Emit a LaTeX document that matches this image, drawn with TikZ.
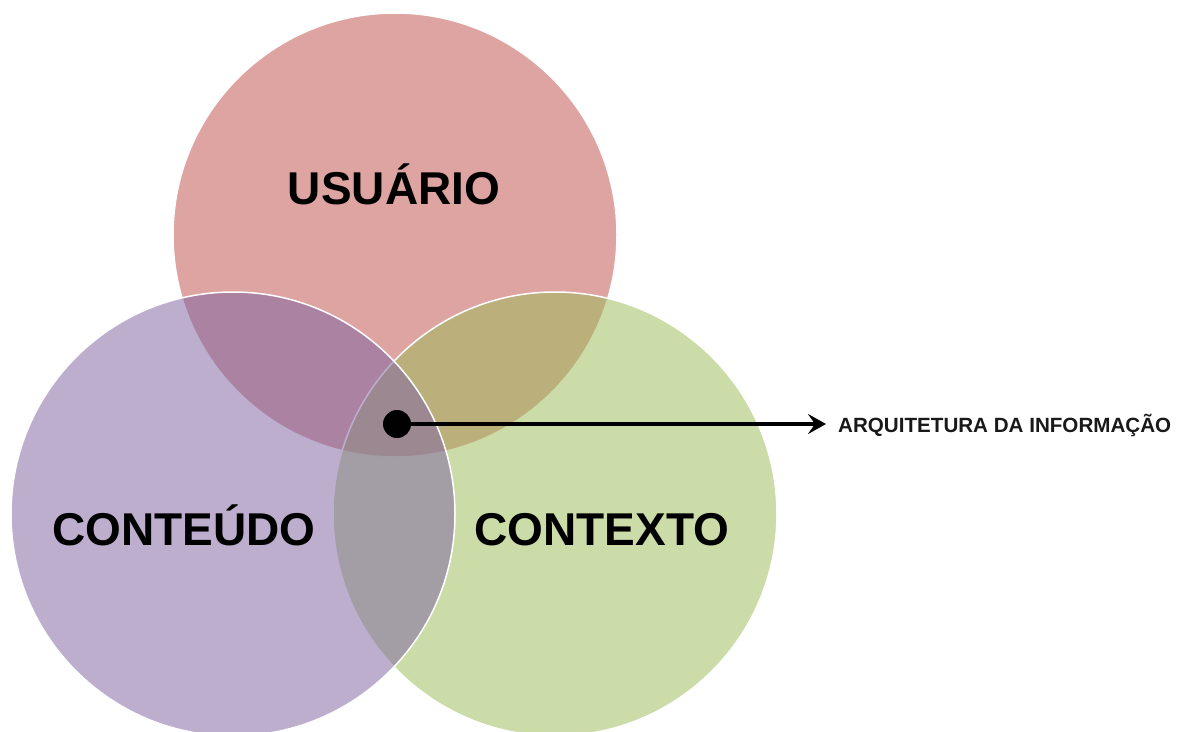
\documentclass[tikz,border=0pt]{standalone}
\usepackage{fontspec}
\setmainfont{Liberation Sans}
\usetikzlibrary{arrows.meta}
\definecolor{cred}{HTML}{C0504D}
\definecolor{cpurple}{HTML}{8064A2}
\definecolor{cgreen}{HTML}{9BBB59}
\tikzset{
  venn/.style={circle, minimum size=444pt, inner sep=0pt, draw=white, line width=1.5pt, fill opacity=0.52},
  bigtxt/.style={font=\fontsize{46}{50}\selectfont\bfseries, text=black, inner sep=0pt, anchor=base},
  smalltxt/.style={font=\fontsize{20.6}{24}\selectfont\bfseries, text=black!90, inner sep=0pt, anchor=base west},
  dotnode/.style={circle, fill=black, minimum size=28pt, inner sep=0pt},
  pointer/.style={line width=4pt, -{Stealth[length=18pt,width=20pt,inset=7pt]}}
}
\begin{document}
\begin{tikzpicture}[x=1pt,y=-1pt]
\useasboundingbox (0,0) rectangle (1190,731);
\node[venn, fill=cred] (usuario) at (395,235) {};
\node[venn, fill=cgreen] (contexto) at (555,514) {};
\node[venn, fill=cpurple] (conteudo) at (233,514) {};
\node[bigtxt] (tu) at (394,204) {USUÁRIO};
\node[bigtxt] (tc) at (184,545) {CONTEÚDO};
\node[bigtxt] (tx) at (602,545) {CONTEXTO};
\node[dotnode] (dot) at (397,424) {};
\node[smalltxt] (ai) at (838,432) {ARQUITETURA DA INFORMAÇÃO};
\draw[pointer] (dot.center) -- ([xshift=-12pt]dot -| ai.west);
\end{tikzpicture}
\end{document}
